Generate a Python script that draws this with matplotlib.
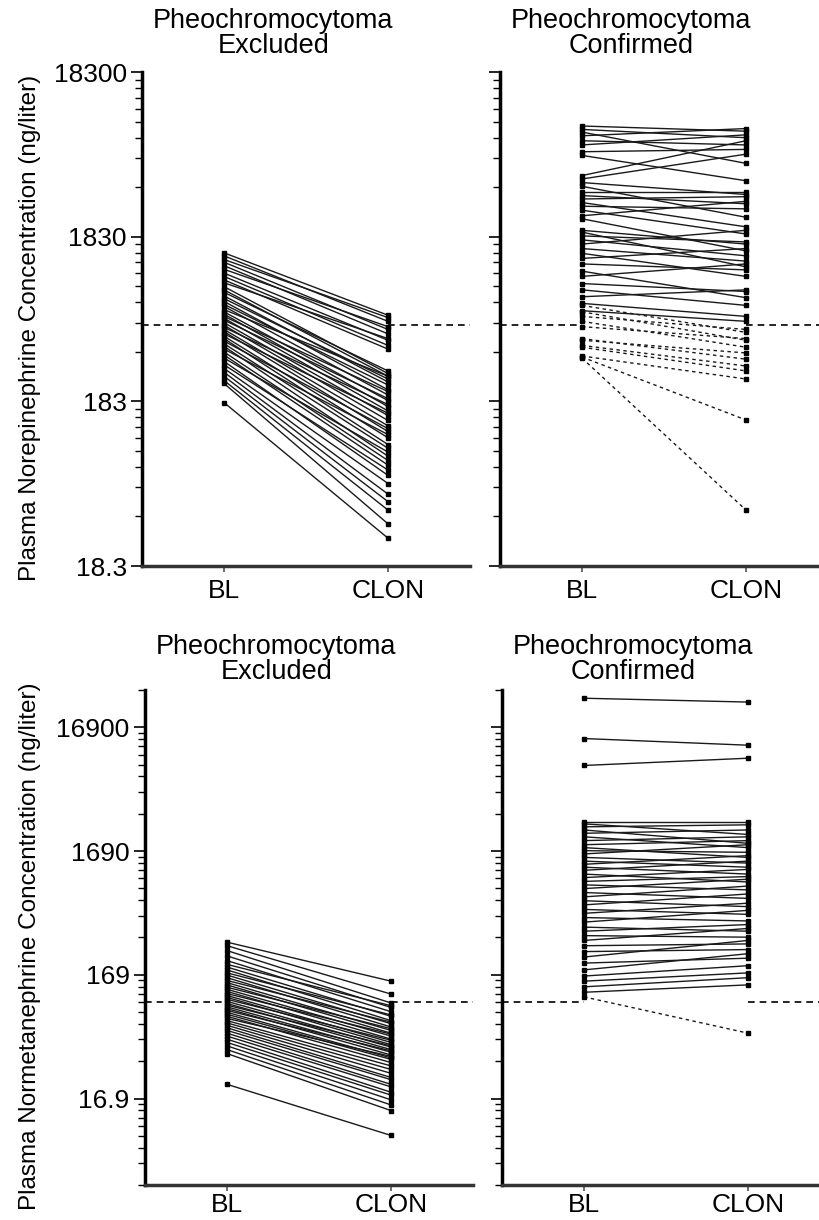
import numpy as np
import matplotlib.pyplot as plt
from matplotlib.ticker import FixedLocator, FixedFormatter, NullFormatter

plt.rcParams['font.family'] = ['Liberation Sans', 'DejaVu Sans']

groups = ['BL', 'CLON']

# plasma norepinephrine, ng/liter
ne_excl_bl = [1460, 1400, 1330, 1280, 1220, 1160, 1100, 1050, 1000, 960,
              910, 870, 840, 800, 770, 740, 710, 690, 660, 640,
              620, 600, 585, 570, 550, 530, 515, 500, 485, 470,
              455, 440, 425, 410, 395, 380, 365, 350, 335, 320,
              305, 290, 275, 260, 245, 235, 180]
ne_excl_clon = [610, 560, 590, 500, 470, 520, 430, 400, 380, 440,
                270, 260, 280, 240, 250, 215, 230, 200, 260, 185,
                170, 210, 160, 190, 150, 140, 175, 130, 120, 155,
                110, 100, 125, 95, 85, 115, 80, 75, 90, 65,
                70, 58, 50, 45, 40, 33, 27]

ne_conf_bl = [8600, 8200, 7900, 7500, 7000, 6600, 6000, 5700, 4300, 4100,
              3900, 3700, 3400, 3250, 3100, 2950, 2800, 2650, 2450, 2350,
              2000, 1950, 1850, 1750, 1650, 1550, 1450, 1350, 1250, 1130,
              1050, 950, 870, 790, 720, 650, 700, 640, 600, 560,
              520, 440, 430, 400, 390, 345, 340, 335]
ne_conf_clon = [8000, 7300, 5100, 8300, 6600, 7600, 6200, 4000, 7000, 5800,
                3300, 2400, 3400, 2900, 3200, 2100, 2700, 1900, 3000, 1500,
                1650, 1200, 1700, 1400, 2000, 1300, 1050, 1550, 1150, 780,
                1250, 850, 700, 870, 600, 560, 480, 430, 500, 390,
                440, 330, 360, 300, 280, 250, 141, 40]

# plasma normetanephrine, ng/liter
nmn_excl_bl = [310, 290, 265, 240, 220, 205, 195, 185, 175, 168,
               160, 152, 146, 140, 134, 129, 124, 119, 115, 111,
               107, 103, 99, 96, 93, 90, 87, 84, 81, 78,
               75, 72, 69, 66, 63, 60, 57, 54, 51, 48,
               45, 42, 39, 22]
nmn_excl_clon = [150, 118, 100, 92, 85, 95, 78, 72, 80, 68,
                 64, 70, 60, 57, 62, 54, 51, 56, 48, 46,
                 50, 44, 42, 45, 40, 38, 41, 36, 35, 33,
                 37, 31, 29, 27, 25, 24, 22, 21, 19, 18,
                 16.5, 15, 13.5, 8.5]

nmn_conf_bl = [29000, 13700, 8300, 2900, 2800, 2650, 2500, 2350, 2200, 2050,
               1900, 1800, 1700, 1600, 1500, 1400, 1320, 1250, 1180, 1100,
               1030, 960, 900, 840, 780, 720, 670, 620, 570, 530,
               490, 450, 410, 380, 350, 320, 290, 260, 235, 210,
               185, 165, 150, 135, 122, 112]
nmn_conf_clon = [27000, 12100, 9500, 2900, 2300, 2750, 1950, 2500, 1800, 2200,
                 2050, 1500, 1650, 1900, 1350, 1250, 1550, 1100, 1400, 950,
                 1200, 1050, 820, 1000, 700, 880, 600, 760, 520, 640,
                 460, 560, 380, 430, 340, 400, 300, 270, 320, 230,
                 250, 200, 175, 160, 140, 57]

ne_cutoff = 535
nmn_cutoff = 102

ne_ticks = ['18.3', '183', '1830', '18300']
nmn_ticks = ['16.9', '169', '1690', '16900']

fig = plt.figure(figsize=(8.19, 12.2), dpi=100)


def panel(rect, bl, clon, cutoff, ticks, ylim, title, confirmed,
          title_gap, xpad, ylabel=None):
    ax = fig.add_axes(rect)
    ax.set_yscale('log')
    ax.set_ylim(*ylim)
    ax.set_xlim(-0.5, 1.5)
    for b, c in zip(bl, clon):
        ls = '--' if (confirmed and c < cutoff) else '-'
        ax.plot([0, 1], [b, c], ls=ls, color='#1a1a1a', lw=1.0,
                dashes=(2.5, 2.5) if ls == '--' else (None, None),
                marker='s', ms=3.5, mfc='black', mec='black', zorder=3)
    # upper reference limit, drawn outside the BL-CLON span
    ax.plot([-0.5, 0], [cutoff, cutoff], color='black', lw=1.2, ls=(0, (4, 3)), zorder=2)
    ax.plot([1, 1.5], [cutoff, cutoff], color='black', lw=1.2, ls=(0, (4, 3)), zorder=2)

    base = float(ticks[0])
    majors = [float(t) for t in ticks]
    minors = []
    for k in range(-1, 4):
        for m in range(2, 10):
            minors.append(m * base * 10 ** k)
    ax.yaxis.set_major_locator(FixedLocator(majors))
    ax.yaxis.set_major_formatter(FixedFormatter(ticks))
    ax.yaxis.set_minor_locator(FixedLocator(minors))
    ax.yaxis.set_minor_formatter(NullFormatter())
    ax.tick_params(axis='y', which='major', length=8, width=1.2, labelsize=19, pad=3)
    ax.tick_params(axis='y', which='minor', length=5, width=1.0)
    if confirmed:
        ax.tick_params(axis='y', which='major', labelleft=False)

    ax.set_xticks([0, 1])
    ax.set_xticklabels(groups)
    ax.tick_params(axis='x', length=4, width=1.2, color='#555555', labelsize=19, pad=xpad)

    for s in ['top', 'right']:
        ax.spines[s].set_visible(False)
    ax.spines['left'].set_linewidth(2.5)
    ax.spines['bottom'].set_linewidth(2.5)
    ax.spines['bottom'].set_color('#333333')

    ax.text(0.40, 1.0 + title_gap / (rect[3] * 1220), title, transform=ax.transAxes,
            ha='center', va='bottom', fontsize=19.5, linespacing=0.95)
    if ylabel:
        fig.text(30 / 819, rect[1] + rect[3] / 2 - 9 / 1220, ylabel, rotation=90,
                 ha='center', va='center', fontsize=17.5)
    return ax


top_y, top_h = (1220 - 566) / 1220, 494 / 1220
bot_y, bot_h = (1220 - 1185) / 1220, 495 / 1220
w = 328 / 819

panel([142 / 819, top_y, w, top_h], ne_excl_bl, ne_excl_clon, ne_cutoff, ne_ticks,
      (18.3, 18300), 'Pheochromocytoma\nExcluded', False, 13, 5,
      'Plasma Norepinephrine Concentration (ng/liter)')
panel([500 / 819, top_y, w, top_h], ne_conf_bl, ne_conf_clon, ne_cutoff, ne_ticks,
      (18.3, 18300), 'Pheochromocytoma\nConfirmed', True, 13, 5)
panel([145 / 819, bot_y, w, bot_h], nmn_excl_bl, nmn_excl_clon, nmn_cutoff, nmn_ticks,
      (3.38, 33800), 'Pheochromocytoma\nExcluded', False, 5, 2,
      'Plasma Normetanephrine Concentration (ng/liter)')
panel([502 / 819, bot_y, w, bot_h], nmn_conf_bl, nmn_conf_clon, nmn_cutoff, nmn_ticks,
      (3.38, 33800), 'Pheochromocytoma\nConfirmed', True, 5, 2)

fig.savefig('out.png', dpi=100)
